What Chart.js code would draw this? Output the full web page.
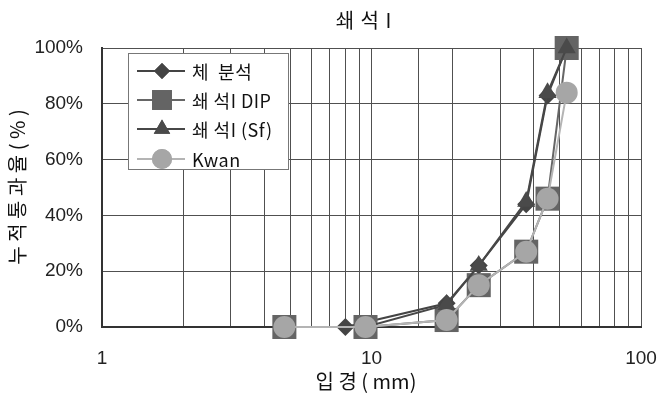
<!DOCTYPE html>
<html>
<head>
<meta charset="utf-8">
<script src="https://cdn.jsdelivr.net/npm/chart.js@4/dist/chart.umd.min.js"></script>
<style>
  html, body { margin: 0; padding: 0; background: #fff; }
  #wrap { width: 658px; height: 397px; }
</style>
</head>
<body>
<div id="wrap"><canvas id="c" width="658" height="397"></canvas></div>
<script>
// Sieve sizes (mm) and cumulative passing (%)
const sieveSizes = [8, 19, 25, 37.5, 45, 53];
const sieveValues = [0, 8.5, 22, 44, 83, 100];
const gradSizes = [4.75, 9.5, 19, 25, 37.5, 45, 53];
const dipValues = [0, 0, 2.5, 15, 27, 46, 100];
const sfValues = [0, 0, 8, 22, 45, 84, 100];
const kwanValues = [0, 0, 2.5, 15, 27, 46, 84];
const seriesNames = ['체  분석', '쇄 석I DIP', '쇄 석I (Sf)', 'Kwan'];
const xTickLabels = [1, 10, 100];
const yTickValues = [0, 20, 40, 60, 80, 100];

const chartTitle = '쇄 석 I';
const xTitle = '입 경 ( mm)';
const yTitle = '누 적 통 과 율 ( % )';

const pairs = (xs, ys) => xs.map((x, i) => ({ x: x, y: ys[i] }));

const FONT = '"Liberation Sans", Arial, sans-serif';
const KFONT = '"Noto Sans CJK KR", "Liberation Sans", sans-serif';

const datasets = [
  { label: seriesNames[0], data: pairs(sieveSizes, sieveValues),
    borderColor: '#444', backgroundColor: '#444', borderWidth: 2, clip: false,
    pointStyle: 'rectRot', pointRadius: 9, pointBorderWidth: 0, order: 4 },
  { label: seriesNames[1], data: pairs(gradSizes, dipValues),
    borderColor: '#666', backgroundColor: '#646464', borderWidth: 2, clip: false,
    pointStyle: 'rect', pointRadius: 17, pointBorderWidth: 0, order: 3 },
  { label: seriesNames[2], data: pairs(gradSizes, sfValues),
    borderColor: '#474747', backgroundColor: '#4a4a4a', borderWidth: 2, clip: false,
    pointStyle: 'triangle', pointRadius: 10.5, pointBorderWidth: 0, order: 2 },
  { label: seriesNames[3], data: pairs(gradSizes, kwanValues),
    borderColor: '#b4b4b4', backgroundColor: '#a6a6a6', borderWidth: 2, clip: false,
    pointStyle: 'circle', pointRadius: 11, pointBorderWidth: 0, order: 1 }
];

// Draws the title, axis titles and the boxed legend inside the plot area
const decorations = {
  id: 'decorations',
  afterDraw(chart) {
    const ctx = chart.ctx;
    ctx.save();
    ctx.fillStyle = '#111';
    ctx.textBaseline = 'middle';
    ctx.textAlign = 'center';
    ctx.font = '20px ' + KFONT;
    ctx.letterSpacing = '1px';
    ctx.fillText(chartTitle, 364, 20);

    ctx.font = '20px ' + KFONT;
    ctx.letterSpacing = '0px';
    ctx.fillText(xTitle, 366, 381);

    ctx.save();
    ctx.translate(17, 187);
    ctx.rotate(-Math.PI / 2);
    ctx.fillText(yTitle, 0, 0);
    ctx.restore();

    // legend box
    const bx = 128.5, by = 53.5, bw = 160, bh = 116;
    ctx.fillStyle = '#fff';
    ctx.fillRect(bx, by, bw, bh);
    ctx.strokeStyle = '#777';
    ctx.lineWidth = 1;
    ctx.strokeRect(bx, by, bw, bh);

    const rows = [71, 100, 129, 159];
    const legendRadius = [8, 14, 9.5, 10];
    chart.data.datasets.forEach((ds, i) => {
      const y = rows[i];
      ctx.strokeStyle = ds.borderColor;
      ctx.lineWidth = 2;
      ctx.beginPath();
      ctx.moveTo(137, y);
      ctx.lineTo(185, y);
      ctx.stroke();
      ctx.fillStyle = ds.backgroundColor;
      Chart.helpers.drawPoint(ctx, {
        pointStyle: ds.pointStyle, radius: legendRadius[i], rotation: 0, borderWidth: 0
      }, 162, y);
      ctx.fill();
      ctx.fillStyle = '#111';
      ctx.textAlign = 'left';
      ctx.font = '18px ' + KFONT;
      ctx.letterSpacing = '0.5px';
      ctx.fillText(ds.label, 192, y + 1);
    });
    ctx.restore();
  }
};

new Chart(document.getElementById('c'), {
  type: 'line',
  data: { datasets: datasets },
  options: {
    responsive: false,
    animation: false,
    devicePixelRatio: 1,
    layout: { padding: { top: 48, right: 17, left: 0, bottom: 0 } },
    plugins: { legend: { display: false }, title: { display: false }, tooltip: { enabled: false } },
    elements: { line: { tension: 0 } },
    scales: {
      x: {
        type: 'logarithmic',
        min: 1, max: 100,
        afterFit(scale) { scale.height = 70; scale.paddingLeft = 0; scale.paddingRight = 0; },
        grid: { color: '#505050', lineWidth: 1, drawTicks: false },
        border: { color: '#333', width: 2 },
        ticks: {
          autoSkip: false, maxRotation: 0, padding: 20,
          color: '#222', font: { family: FONT, size: 19 },
          callback(v) { return xTickLabels.includes(v) ? String(v) : ''; }
        }
      },
      y: {
        type: 'linear',
        min: 0, max: 100,
        afterFit(scale) { scale.width = 102; scale.paddingTop = 0; scale.paddingBottom = 0; },
        afterBuildTicks(scale) { scale.ticks = yTickValues.map(v => ({ value: v })); },
        grid: { color: '#505050', lineWidth: 1, drawTicks: false },
        border: { color: '#333', width: 2 },
        ticks: {
          padding: 19, color: '#222', font: { family: FONT, size: 19 },
          callback(v) { return v + '%'; }
        }
      }
    }
  },
  plugins: [decorations]
});
</script>
</body>
</html>
